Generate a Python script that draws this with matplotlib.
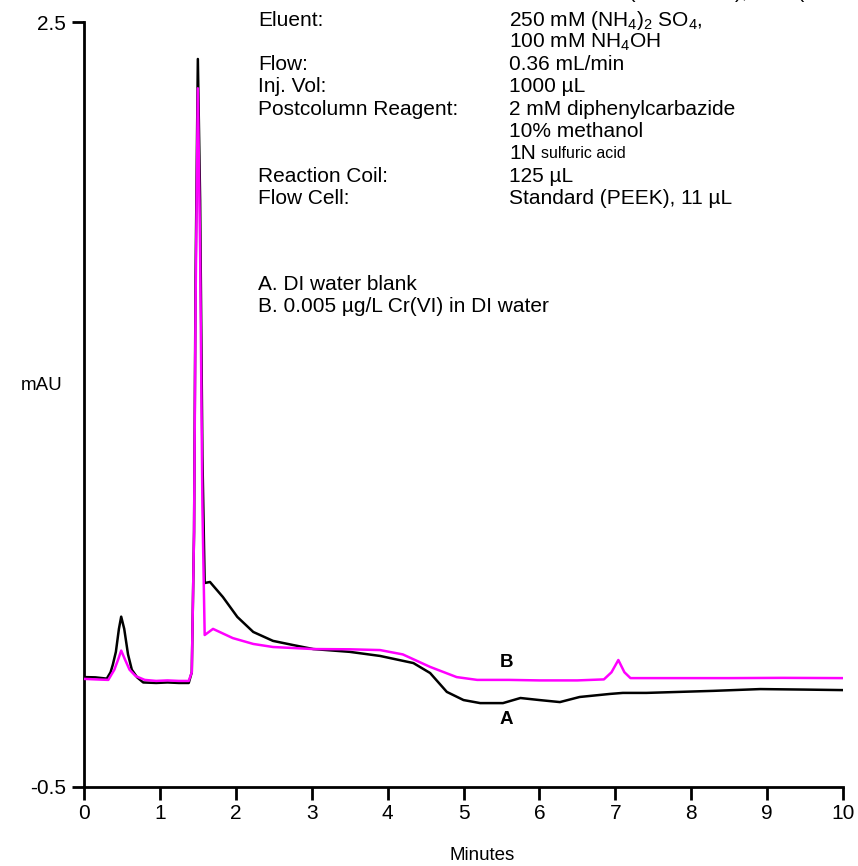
import matplotlib
matplotlib.use("Agg")
import matplotlib.pyplot as plt

plt.rcParams['font.family'] = ['Liberation Sans', 'DejaVu Sans']
plt.rcParams['mathtext.fontset'] = 'custom'
plt.rcParams['mathtext.rm'] = 'Liberation Sans'
plt.rcParams['mathtext.it'] = 'Liberation Sans'

# trace A: DI water blank (black)
time_a = [0.0, 0.15, 0.30, 0.35, 0.38, 0.42, 0.46, 0.49, 0.53, 0.58, 0.63, 0.70,
          0.78, 0.95, 1.10, 1.25, 1.38, 1.42, 1.45, 1.47, 1.50, 1.53, 1.56, 1.59,
          1.66, 1.70, 1.83, 2.02, 2.23, 2.49, 2.75, 3.02, 3.50, 3.90, 4.34, 4.56,
          4.78, 5.00, 5.22, 5.52, 5.75, 6.00, 6.27, 6.53, 6.93, 7.10, 7.41, 7.85,
          8.29, 8.91, 9.50, 10.0]
mau_a = [-0.069, -0.070, -0.075, -0.05, -0.02, 0.03, 0.12, 0.168, 0.12, 0.02, -0.04,
         -0.07, -0.09, -0.092, -0.090, -0.092, -0.092, -0.05, 0.5, 1.5, 2.355, 1.8,
         0.8, 0.30, 0.304, 0.29, 0.245, 0.167, 0.108, 0.073, 0.057, 0.041, 0.03,
         0.014, -0.014, -0.053, -0.127, -0.159, -0.171, -0.171, -0.151, -0.159,
         -0.167, -0.147, -0.135, -0.131, -0.131, -0.127, -0.123, -0.116, -0.118,
         -0.120]

# trace B: 0.005 ug/L Cr(VI) (magenta)
time_b = [0.0, 0.15, 0.32, 0.40, 0.45, 0.49, 0.54, 0.60, 0.68, 0.80, 0.95, 1.10,
          1.25, 1.38, 1.42, 1.45, 1.47, 1.50, 1.53, 1.56, 1.59, 1.70, 1.96, 2.23,
          2.49, 3.02, 3.50, 3.90, 4.20, 4.56, 4.91, 5.18, 5.60, 6.00, 6.50, 6.85,
          6.95, 7.04, 7.12, 7.20, 7.60, 8.50, 9.20, 10.0]
mau_b = [-0.076, -0.078, -0.080, -0.04, 0.0, 0.035, 0.0, -0.04, -0.065, -0.080,
         -0.084, -0.082, -0.084, -0.084, -0.05, 0.5, 1.4, 2.24, 1.6, 0.6, 0.096,
         0.120, 0.084, 0.061, 0.049, 0.041, 0.04, 0.037, 0.02, -0.029, -0.069,
         -0.080, -0.080, -0.082, -0.082, -0.078, -0.05, -0.002, -0.05, -0.073,
         -0.073, -0.073, -0.072, -0.073]

x_ticks = list(range(0, 11))
y_ticks = [-0.5, 2.5]

conditions = [
    ("Column:", "IonPac NG1 (4 × 35 mm), AS7 (4 × 250 mm)"),
    ("Eluent:", r"250 mM (NH$_4$)$_2$ SO$_4$,"),
    ("", r"100 mM NH$_4$OH"),
    ("Flow:", "0.36 mL/min"),
    ("Inj. Vol:", "1000 µL"),
    ("Postcolumn Reagent:", "2 mM diphenylcarbazide"),
    ("", "10% methanol"),
    ("", "1N"),
    ("Reaction Coil:", "125 µL"),
    ("Flow Cell:", "Standard (PEEK), 11 µL"),
]
samples = ["A. DI water blank", "B. 0.005 µg/L Cr(VI) in DI water"]

W, H = 858, 866
fig = plt.figure(figsize=(W / 100, H / 100), dpi=100)
ax = fig.add_axes([84 / W, 1 - 787 / H, (843 - 84) / W, (787 - 22) / H])

ax.plot(time_a, mau_a, color='black', lw=1.8, zorder=2)
ax.plot(time_b, mau_b, color='#ff00ff', lw=1.8, zorder=3)

ax.set_xlim(0, 10)
ax.set_ylim(-0.5, 2.5)
ax.set_xticks(x_ticks)
ax.set_yticks(y_ticks)
ax.set_yticklabels(['-0.5', '2.5'])
for side in ('top', 'right'):
    ax.spines[side].set_visible(False)
for side in ('left', 'bottom'):
    ax.spines[side].set_linewidth(2)
ax.tick_params(axis='both', direction='out', length=9, width=2, labelsize=15)
ax.tick_params(axis='x', pad=3)
ax.tick_params(axis='y', pad=4)

ax.text(5.57, -0.01, "B", fontsize=13.5, fontweight='bold', ha='center', va='center')
ax.text(5.57, -0.237, "A", fontsize=13.5, fontweight='bold', ha='center', va='center')

# condition block
fs = 15
for i, (label, value) in enumerate(conditions):
    ypx = -7 if i == 0 else 20 + (i - 1) * 22.3
    y = 1 - ypx / H
    if label:
        fig.text(258 / W, y, label, fontsize=fs, va='center', ha='left')
    fig.text(509 / W, y, value, fontsize=fs, va='center', ha='left')
    if value == "1N":
        fig.text(541 / W, y, "sulfuric acid", fontsize=11.5, va='center', ha='left')

for i, s in enumerate(samples):
    fig.text(258 / W, 1 - (284 + i * 22.3) / H, s, fontsize=fs, va='center', ha='left')

fig.text(42 / W, 1 - 385 / H, "mAU", fontsize=13.5, va='center', ha='center')
fig.text(482 / W, 1 - 855 / H, "Minutes", fontsize=13.5, va='center', ha='center')

fig.savefig("out.png", dpi=100)
